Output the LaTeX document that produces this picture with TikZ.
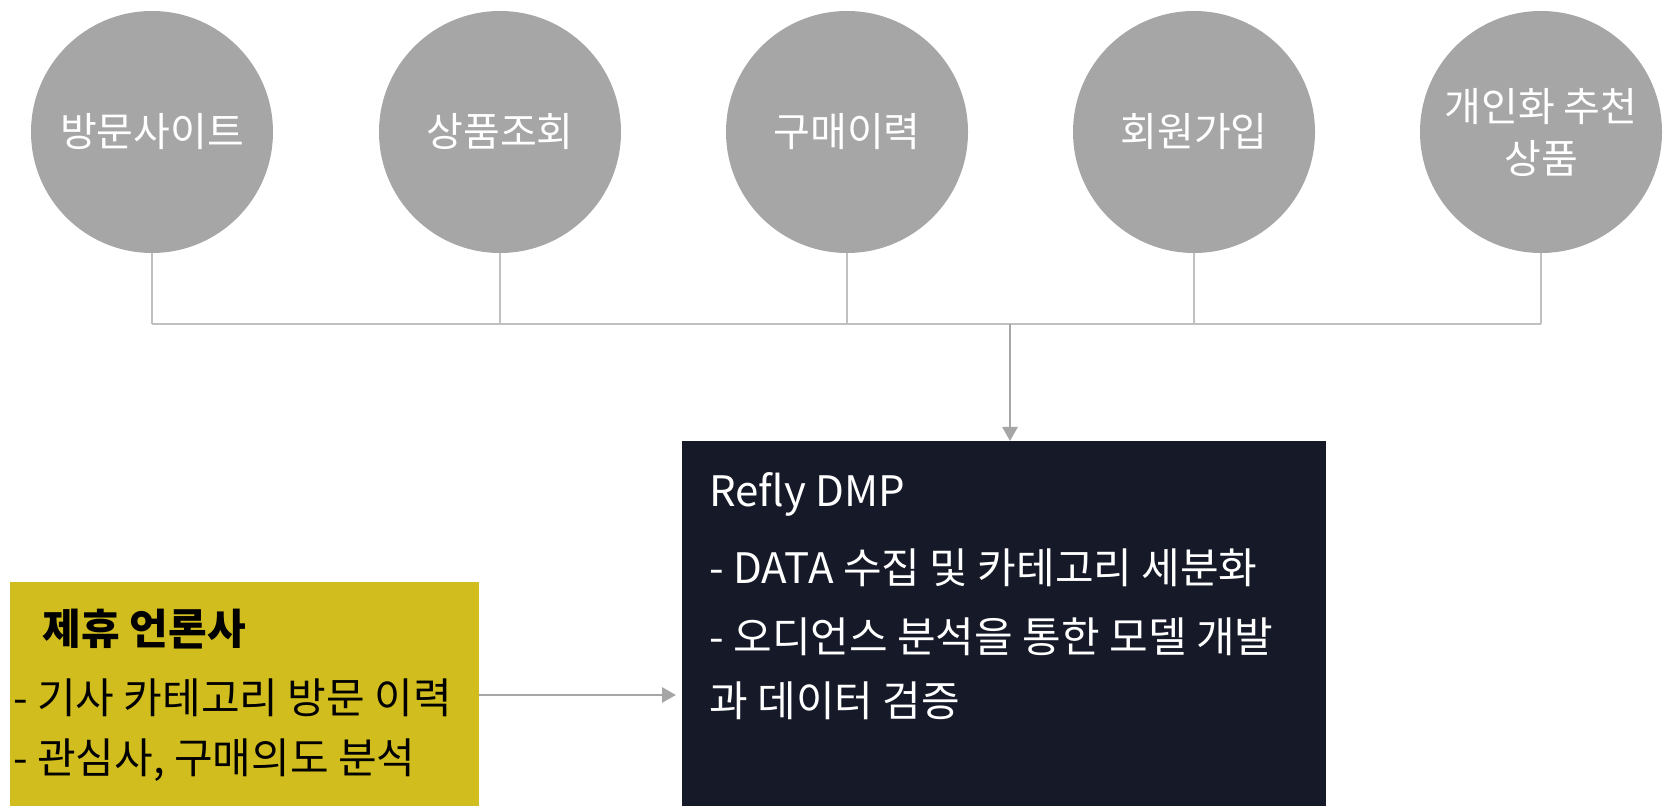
\documentclass[tikz,border=0pt]{standalone}
\usepackage{fontspec}
\setmainfont{Noto Sans CJK KR}
\usepackage{tikz}
\usetikzlibrary{arrows,arrows.meta,shapes}

\definecolor{circlegray}{HTML}{A6A6A6}
\definecolor{linegray}{HTML}{C0C0C0}
\definecolor{dmpnavy}{HTML}{161A28}
\definecolor{pressyellow}{HTML}{D1BD1E}

\tikzset{
  source/.style={circle,fill=circlegray,minimum size=121pt,inner sep=0pt,
    text=white,font=\fontsize{20}{26}\selectfont,align=center},
  bus/.style={draw=linegray,line width=0.9pt},
  feed/.style={draw=circlegray,line width=1.4pt,->},
  boxtext/.style={anchor=west,inner sep=0pt,font=\fontsize{21}{26}\selectfont}
}

\begin{document}
\begin{tikzpicture}[x=0.5pt,y=-0.5pt,>={Triangle[width=7.5pt,length=7pt]}]
\useasboundingbox (0,0) rectangle (1665,806);
%%
  \node (visit) at (152,132) [source] {방문사이트};
  \node (view) at (500,132) [source] {상품조회};
  \node (buy) at (847,132) [source] {구매이력};
  \node (join) at (1194,132) [source] {회원가입};
  \node (reco) at (1541,132) [source] {개인화 추천\\상품};
%
  \node (dmp) at (682,441) [anchor=north west,fill=dmpnavy,minimum width=321.75pt,minimum height=182.5pt,inner sep=0pt] {};
  \node (press) at (9.6,582) [anchor=north west,fill=pressyellow,minimum width=234.25pt,minimum height=112pt,inner sep=0pt] {};
%
  \node (dmptitle) at (709,494) [boxtext,text=white] {Refly DMP};
  \node (dmpline1) at (709,568) [boxtext,text=white] {- DATA 수집 및 카테고리 세분화};
  \node (dmpline2) at (709,637) [boxtext,text=white] {- 오디언스 분석을 통한 모델 개발};
  \node (dmpline3) at (709,701) [boxtext,text=white] {과 데이터 검증};
%
  \node (presstitle) at (42.5,629) [boxtext,font=\fontsize{21}{26}\selectfont\bfseries] {제휴 언론사};
  \node (pressline1) at (12.7,698) [boxtext] {- 기사 카테고리 방문 이력};
  \node (pressline2) at (12.7,760) [boxtext] {- 관심사, 구매의도 분석};
%
  \coordinate (bvisit) at (152,324);
  \coordinate (bview) at (500,324);
  \coordinate (bbuy) at (847,324);
  \coordinate (bjoin) at (1194,324);
  \coordinate (breco) at (1541,324);
  \coordinate (bmid) at (1010,324);
  \draw [bus] (visit.south) -- (bvisit);
  \draw [bus] (view.south) -- (bview);
  \draw [bus] (buy.south) -- (bbuy);
  \draw [bus] (join.south) -- (bjoin);
  \draw [bus] (reco.south) -- (breco);
  \draw [bus] (bvisit) -- (breco);
  \draw [feed] (bmid) -- (dmp.north west -| bmid);
  \draw [feed,shorten >=3pt] (press.east |- 0,695) -- (dmp.west |- 0,695);
%
\end{tikzpicture}
\end{document}
